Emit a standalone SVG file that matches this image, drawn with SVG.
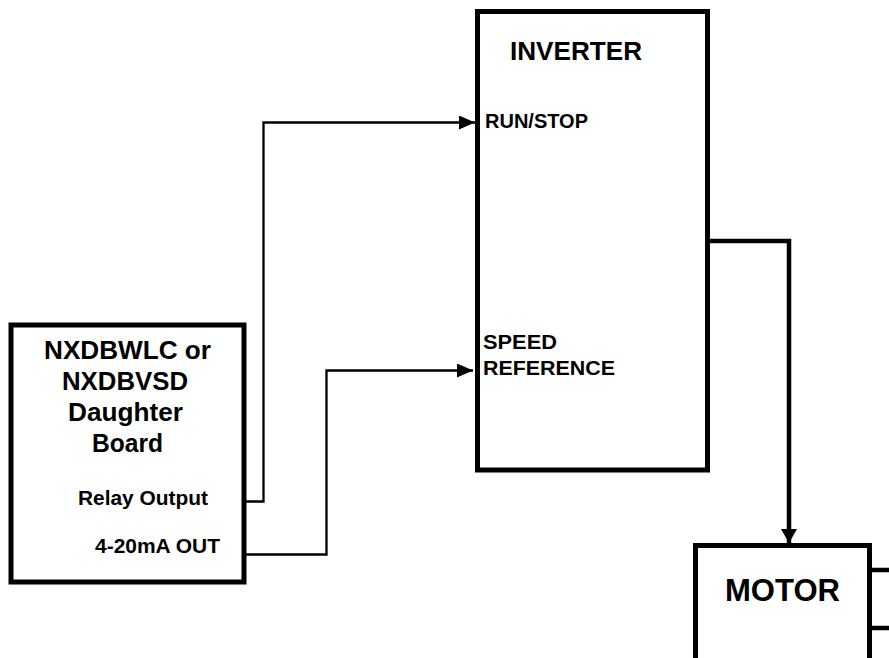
<svg xmlns="http://www.w3.org/2000/svg" width="889" height="658" viewBox="0 0 889 658">
  <defs>
    <marker id="arrowThin" markerUnits="userSpaceOnUse" viewBox="0 0 16 14" refX="16" refY="7" markerWidth="16" markerHeight="14" orient="auto">
      <path d="M0,0 L16,7 L0,14 Z" fill="#000"/>
    </marker>
    <marker id="arrowThick" markerUnits="userSpaceOnUse" viewBox="0 0 14 16" refX="14" refY="8" markerWidth="14" markerHeight="16" orient="auto">
      <path d="M0,0 L14,8 L0,16 Z" fill="#000"/>
    </marker>
    <style>
      .box { fill: #fff; stroke: #000; stroke-width: 5; }
      .t { font-family: "Liberation Sans", Arial, sans-serif; font-weight: bold; fill: #000; }
      .big { font-size: 26px; }
      .mid { font-size: 20.5px; }
      .thin { fill: none; stroke: #000; stroke-width: 2.3; }
      .thick { fill: none; stroke: #000; stroke-width: 4.5; }
    </style>
  </defs>
  <rect width="889" height="658" fill="#fff"/>

  <g id="connectors">
    <path class="thin" d="M246,501.5 H263.5 V122.5 H475" marker-end="url(#arrowThin)"/>
    <path class="thin" d="M246,554.5 H326.5 V370.5 H473" marker-end="url(#arrowThin)"/>
    <path class="thick" d="M703,241 H789 V543" marker-end="url(#arrowThick)"/>
    <path class="thick" d="M870,570 H889 M870,628 H889"/>
  </g>

  <g id="daughter-board">
    <rect class="box" x="11" y="325" width="233" height="257"/>
    <text class="t big" x="44" y="359" textLength="167" lengthAdjust="spacingAndGlyphs">NXDBWLC or</text>
    <text class="t big" x="62" y="390" textLength="126" lengthAdjust="spacingAndGlyphs">NXDBVSD</text>
    <text class="t big" x="68" y="421" textLength="115" lengthAdjust="spacingAndGlyphs">Daughter</text>
    <text class="t big" x="92" y="452" textLength="71" lengthAdjust="spacingAndGlyphs">Board</text>
    <text class="t mid" x="78" y="505" textLength="130" lengthAdjust="spacingAndGlyphs">Relay Output</text>
    <text class="t mid" x="95" y="553" textLength="125" lengthAdjust="spacingAndGlyphs">4-20mA OUT</text>
  </g>

  <g id="inverter">
    <rect class="box" x="477.5" y="11.5" width="230" height="458.5"/>
    <text class="t big" x="510" y="60" textLength="132" lengthAdjust="spacingAndGlyphs">INVERTER</text>
    <text class="t mid" x="485" y="128" textLength="103" lengthAdjust="spacingAndGlyphs">RUN/STOP</text>
    <text class="t mid" x="483" y="349" textLength="74" lengthAdjust="spacingAndGlyphs">SPEED</text>
    <text class="t mid" x="483" y="375" textLength="132" lengthAdjust="spacingAndGlyphs">REFERENCE</text>
  </g>

  <g id="motor">
    <rect class="box" x="695.5" y="545.5" width="174" height="130"/>
    <text class="t" style="font-size:31px" x="725" y="601" textLength="115" lengthAdjust="spacingAndGlyphs">MOTOR</text>
  </g>
</svg>
